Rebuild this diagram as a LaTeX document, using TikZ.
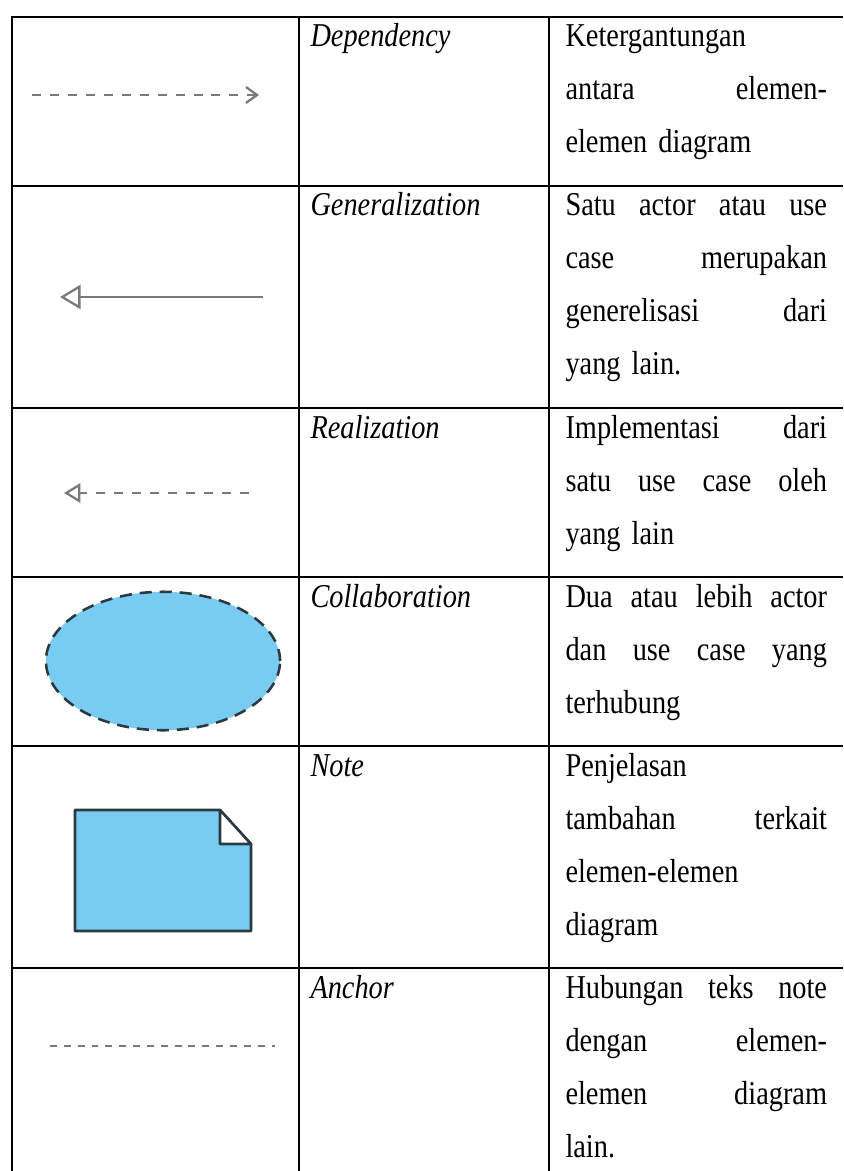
\documentclass[tikz,border=0pt]{standalone}
\usepackage{fontspec}
\setmainfont{Liberation Serif}[FakeStretch=0.85]
\usetikzlibrary{arrows.meta,shapes.geometric,positioning}
\definecolor{symgray}{HTML}{7A7A7A}
\definecolor{usecaseblue}{HTML}{79CCF1}
\definecolor{outlinedark}{HTML}{2B3A42}
\newlength{\desccol}
\setlength{\desccol}{102pt}
\newcommand{\jline}[1]{{\spaceskip=0pt\xspaceskip=0pt\makebox[\desccol][s]{#1}}}

\begin{document}
\begin{tikzpicture}[x=0.39pt,y=-0.39pt,
  every node/.style={inner sep=0pt,font=\fontsize{13}{20.67}\selectfont},
  term/.style={anchor=base west,font=\fontsize{13}{20.67}\selectfont\itshape},
  desc/.style={anchor=base west,text width=\desccol,align=left},
  grid/.style={line width=0.75pt},
  symline/.style={symgray,line width=0.9pt},
  symdash/.style={symline,dash pattern=on 3.5pt off 3.5pt}]
\useasboundingbox (0,0) rectangle (843,1171);
% table rules
\draw [grid] (843,17) -- (12,17) -- (12,1171);
\foreach \r in {186,408,577,746,968}
  \draw [grid] (12,\r) -- (843,\r);
\foreach \c in {299,549}
  \draw [grid] (\c,17) -- (\c,1171);

% Dependency
\node [term] (DependencyName) at (310,47) {Dependency};
\node [desc] (DependencyText) at (565,47) {Ketergantungan\\ \jline{antara elemen-}\\ elemen diagram};
\coordinate (DependencyFrom) at (32,95);
\coordinate (DependencyTo) at (259,95);
\draw [symdash,-{Straight Barb[length=4.3pt,width=6.2pt]}] (DependencyFrom) -- (DependencyTo);

% Generalization
\node [term] (GeneralizationName) at (310,216) {Generalization};
\node [desc] (GeneralizationText) at (565,216) {\jline{Satu actor atau use}\\ \jline{case merupakan}\\ \jline{generelisasi dari}\\ yang lain.};
\coordinate (GeneralizationFrom) at (263,297);
\coordinate (GeneralizationTo) at (60,297);
\draw [symline,-{Triangle[open,length=8pt,width=9.4pt]}] (GeneralizationFrom) -- (GeneralizationTo);

% Realization
\node [term] (RealizationName) at (310,438) {Realization};
\node [desc] (RealizationText) at (565,438) {\jline{Implementasi dari}\\ \jline{satu use case oleh}\\ yang lain};
\coordinate (RealizationFrom) at (249,493);
\coordinate (RealizationTo) at (64,493);
\draw [symdash,-{Triangle[open,length=6.4pt,width=7.6pt]}] (RealizationFrom) -- (RealizationTo);

% Collaboration
\node [term] (CollaborationName) at (310,607) {Collaboration};
\node [desc] (CollaborationText) at (565,607) {\jline{Dua atau lebih actor}\\ \jline{dan use case yang}\\ terhubung};
\node [ellipse,draw=outlinedark,fill=usecaseblue,line width=1pt,dash pattern=on 4.7pt off 3.1pt,
  minimum width=91.3pt,minimum height=54pt] (CollaborationShape) at (163,661) {};

% Note
\node [term] (NoteName) at (310,776) {Note};
\node [desc] (NoteText) at (565,776) {Penjelasan\\ \jline{tambahan terkait}\\ elemen-elemen\\ diagram};
\draw [outlinedark,fill=usecaseblue,line width=1pt,line join=round] (75,810) -- (220,810) -- (251,844) -- (251,931) -- (75,931) -- cycle;
\draw [outlinedark,fill=white,line width=1pt,line join=round] (220,810) -- (220,844) -- (251,844) -- cycle;

% Anchor
\node [term] (AnchorName) at (310,998) {Anchor};
\node [desc] (AnchorText) at (565,998) {\jline{Hubungan teks note}\\ \jline{dengan elemen-}\\ \jline{elemen diagram}\\ lain.};
\coordinate (AnchorFrom) at (50,1046);
\coordinate (AnchorTo) at (275,1046);
\draw [symline,line width=1pt,dash pattern=on 2.7pt off 2.7pt] (AnchorFrom) -- (AnchorTo);
\end{tikzpicture}
\end{document}
